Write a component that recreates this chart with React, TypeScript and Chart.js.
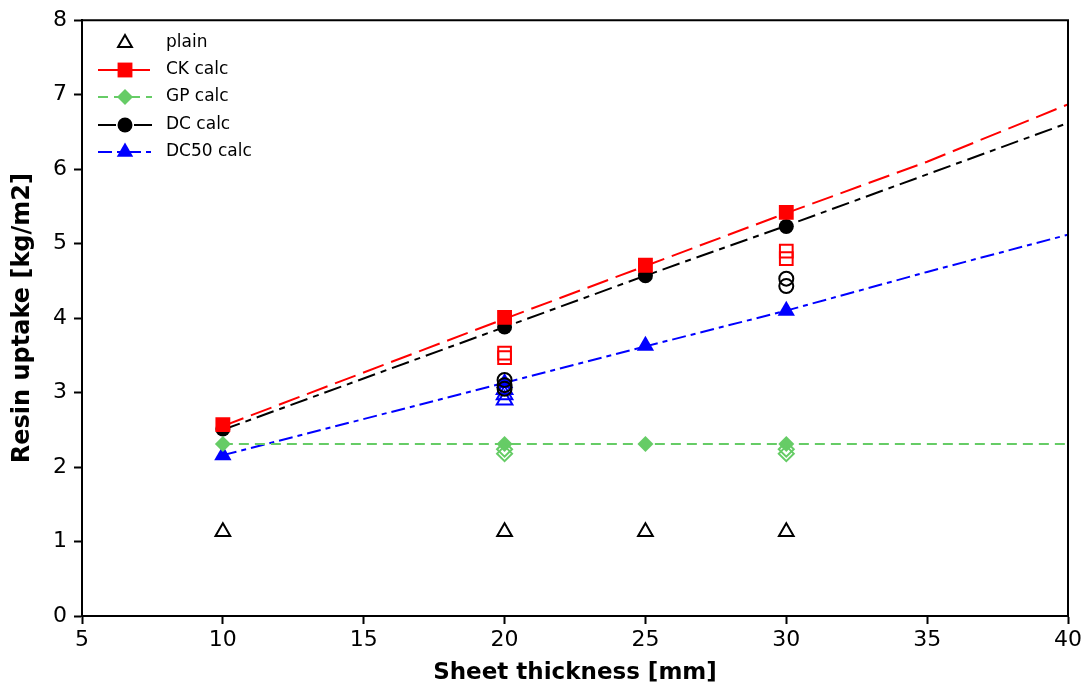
import React, { useEffect, useRef } from "react";
import { Chart, registerables } from "chart.js";

Chart.register(...registerables);

// ---- data ----
const markerX = [10, 20, 25, 30];
const plainY = [1.13, 1.13, 1.13, 1.13];
const ckCalcY = [2.57, 4.01, 4.71, 5.42];
const gpCalcY = [2.31, 2.31, 2.31, 2.31];
const dcCalcY = [2.51, 3.88, 4.57, 5.23];
const dc50CalcY = [2.16, 3.13, 3.63, 4.1];

const lineX = [10, 20, 25, 30, 35, 40];
const ckLineY = [2.55, 3.99, 4.7, 5.41, 6.1, 6.87];
const gpLineY = [2.31, 2.31, 2.31, 2.31, 2.31, 2.31];
const dcLineY = [2.5, 3.88, 4.57, 5.24, 5.93, 6.62];
const dc50LineY = [2.16, 3.13, 3.62, 4.1, 4.62, 5.12];

const ckMeasX = [20, 20, 30, 30];
const ckMeasY = [3.47, 3.53, 4.8, 4.9];
const gpMeasX = [20, 20, 30, 30];
const gpMeasY = [2.18, 2.24, 2.18, 2.24];
const dcMeasX = [20, 20, 20, 30, 30];
const dcMeasY = [3.05, 3.1, 3.17, 4.43, 4.53];
const dc50MeasX = [20, 20, 20];
const dc50MeasY = [2.9, 2.97, 3.04];

const xTicks = [5, 10, 15, 20, 25, 30, 35, 40];
const yTicks = [0, 1, 2, 3, 4, 5, 6, 7, 8];

const legendLabels = ["plain", "CK calc", "GP calc", "DC calc", "DC50 calc"];

const RED = "#ff0000";
const GREEN = "#66cc66";
const BLACK = "#000000";
const BLUE = "#0000ff";

const dashCK = [22, 8];
const dashGP = [10, 6];
const dashDC = [18, 6, 6, 6];
const dashDC50 = [14, 5, 5, 5];

const pts = (xs: number[], ys: number[]) => xs.map((x, i) => ({ x, y: ys[i] }));

const legendItems = [
  { label: legendLabels[0], color: BLACK, style: "triangle", filled: false, dash: null as number[] | null, r: 8 },
  { label: legendLabels[1], color: RED, style: "rect", filled: true, dash: dashCK, r: 10.5 },
  { label: legendLabels[2], color: GREEN, style: "rectRot", filled: true, dash: dashGP, r: 8 },
  { label: legendLabels[3], color: BLACK, style: "circle", filled: true, dash: dashDC, r: 7.5 },
  { label: legendLabels[4], color: BLUE, style: "triangle", filled: true, dash: dashDC50, r: 9.5 },
];

function drawMarker(ctx: CanvasRenderingContext2D, style: string, x: number, y: number, r: number, filled: boolean, color: string) {
  ctx.beginPath();
  if (style === "triangle") {
    ctx.moveTo(x, y - r);
    ctx.lineTo(x + r * 0.866, y + r * 0.5);
    ctx.lineTo(x - r * 0.866, y + r * 0.5);
    ctx.closePath();
  } else if (style === "rect") {
    const s = r * Math.SQRT1_2;
    ctx.rect(x - s, y - s, 2 * s, 2 * s);
  } else if (style === "rectRot") {
    ctx.moveTo(x, y - r);
    ctx.lineTo(x + r, y);
    ctx.lineTo(x, y + r);
    ctx.lineTo(x - r, y);
    ctx.closePath();
  } else {
    ctx.arc(x, y, r, 0, Math.PI * 2);
  }
  if (filled) {
    ctx.fillStyle = color;
    ctx.fill();
  } else {
    ctx.strokeStyle = color;
    ctx.lineWidth = 2;
    ctx.stroke();
  }
}

const legendPlugin = {
  id: "customLegend",
  afterDraw(chart: any) {
    const ctx = chart.ctx;
    ctx.save();
    const x0 = 98, x1 = 152, mx = 125, tx = 166;
    const ys = [43, 70, 97, 125, 152];
    legendItems.forEach((it, i) => {
      const y = ys[i];
      if (it.dash) {
        ctx.beginPath();
        ctx.setLineDash(it.dash);
        ctx.lineWidth = 2;
        ctx.strokeStyle = it.color;
        ctx.moveTo(x0, y);
        ctx.lineTo(x1, y);
        ctx.stroke();
        ctx.setLineDash([]);
      }
      drawMarker(ctx, it.style, mx, y, it.r, it.filled, it.color);
      ctx.fillStyle = "#000";
      ctx.font = "17px 'DejaVu Sans'";
      ctx.textBaseline = "middle";
      ctx.textAlign = "left";
      ctx.fillText(it.label, tx, y);
    });
    // frame top/right
    const a = chart.chartArea;
    ctx.strokeStyle = "#000";
    ctx.lineWidth = 2;
    ctx.beginPath();
    ctx.moveTo(a.left, a.top);
    ctx.lineTo(a.right, a.top);
    ctx.lineTo(a.right, a.bottom);
    ctx.stroke();
    ctx.restore();
  },
};

const lineDs = (label: string, xs: number[], ys: number[], color: string, dash: number[]) => ({
  type: "line" as const,
  label,
  data: pts(xs, ys),
  borderColor: color,
  borderWidth: 2,
  borderDash: dash,
  pointRadius: 0,
  showLine: true,
  fill: false,
  tension: 0,
  order: 5,
});

const markerDs = (label: string, xs: number[], ys: number[], color: string, style: string, r: number, filled: boolean) => ({
  type: "scatter" as const,
  label,
  data: pts(xs, ys),
  showLine: false,
  pointStyle: style,
  pointRadius: r,
  pointBackgroundColor: filled ? color : "rgba(0,0,0,0)",
  pointBorderColor: color,
  pointBorderWidth: filled ? 0 : 2,
  order: 1,
});

export default function App() {
  const ref = useRef<HTMLCanvasElement | null>(null);
  useEffect(() => {
    if (!ref.current) return;
    const chart = new Chart(ref.current, {
      type: "scatter",
      data: {
        datasets: [
          lineDs("CK line", lineX, ckLineY, RED, dashCK),
          lineDs("GP line", lineX, gpLineY, GREEN, dashGP),
          lineDs("DC line", lineX, dcLineY, BLACK, dashDC),
          lineDs("DC50 line", lineX, dc50LineY, BLUE, dashDC50),
          markerDs("CK meas", ckMeasX, ckMeasY, RED, "rect", 9, false),
          markerDs("GP meas", gpMeasX, gpMeasY, GREEN, "rectRot", 7.5, false),
          markerDs("DC meas", dcMeasX, dcMeasY, BLACK, "circle", 7, false),
          markerDs("DC50 meas", dc50MeasX, dc50MeasY, BLUE, "triangle", 9, false),
          markerDs("plain", markerX, plainY, BLACK, "triangle", 8.5, false),
          markerDs("CK calc", markerX, ckCalcY, RED, "rect", 10.5, true),
          markerDs("GP calc", markerX, gpCalcY, GREEN, "rectRot", 8, true),
          markerDs("DC calc", markerX, dcCalcY, BLACK, "circle", 7.5, true),
          markerDs("DC50 calc", markerX, dc50CalcY, BLUE, "triangle", 10, true),
        ] as any,
      },
      options: {
        responsive: false,
        animation: false,
        layout: { padding: { left: 0, right: 20, top: 18, bottom: 0 } },
        plugins: { legend: { display: false }, tooltip: { enabled: false } },
        scales: {
          x: {
            type: "linear",
            min: 5,
            max: 40,
            afterBuildTicks: (s: any) => { s.ticks = xTicks.map((v) => ({ value: v })); },
            afterFit: (s: any) => { s.height = 74; },
            ticks: { color: "#000", font: { family: "'DejaVu Sans'", size: 22 }, padding: 3 },
            grid: { display: true, drawOnChartArea: false, drawTicks: true, tickLength: 8, tickColor: "#000", tickWidth: 2 },
            border: { display: true, color: "#000", width: 2 },
            title: { display: true, text: "Sheet thickness [mm]", color: "#000", font: { family: "'DejaVu Sans'", size: 23, weight: "bold" }, padding: { top: 0, bottom: 3 } },
          },
          y: {
            type: "linear",
            min: 0,
            max: 8,
            afterBuildTicks: (s: any) => { s.ticks = yTicks.map((v) => ({ value: v })); },
            afterFit: (s: any) => { s.width = 82; },
            ticks: { color: "#000", font: { family: "'DejaVu Sans'", size: 22 }, padding: 7 },
            grid: { display: true, drawOnChartArea: false, drawTicks: true, tickLength: 8, tickColor: "#000", tickWidth: 2 },
            border: { display: true, color: "#000", width: 2 },
            title: { display: true, text: "Resin uptake [kg/m2]", color: "#000", font: { family: "'DejaVu Sans'", size: 24, weight: "bold" }, padding: { top: 8, bottom: 0 } },
          },
        },
      },
      plugins: [legendPlugin],
    } as any);
    return () => chart.destroy();
  }, []);
  return (
    <div style={{ position: "absolute", left: 0, top: 0, width: 1088, height: 690, background: "#fff" }}>
      <canvas ref={ref} width={1088} height={690} />
    </div>
  );
}
